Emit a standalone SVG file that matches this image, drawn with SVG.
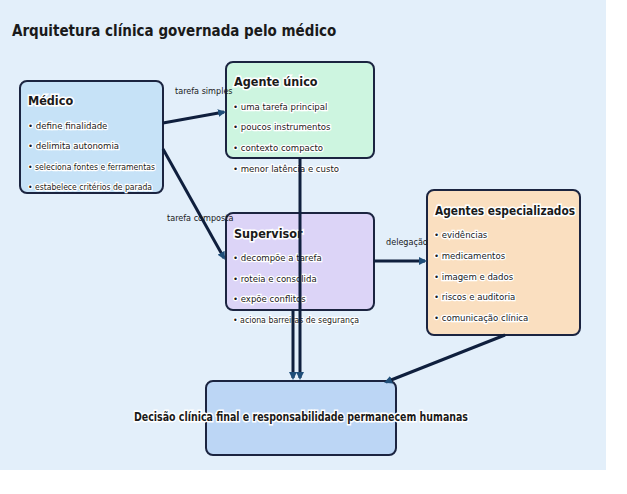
<svg xmlns="http://www.w3.org/2000/svg" width="627" height="494" viewBox="0 0 627 494">
<style>
text{font-family:"DejaVu Sans Condensed","DejaVu Sans",sans-serif;fill:#1a1a1a}
.t{font-weight:bold;font-size:12.5px;stroke:#fff;stroke-width:3;paint-order:stroke}
.b{font-size:9.5px;stroke:#fff;stroke-width:2.5;paint-order:stroke}
.l{font-size:9px}
.box{stroke:#1b2440;stroke-width:2}
.c{stroke:#0f1f3d;stroke-width:3;fill:none;marker-end:url(#ah)}
</style>
<defs>
<marker id="ah" markerWidth="8" markerHeight="8" refX="6" refY="4" orient="auto" markerUnits="userSpaceOnUse"><path d="M0,0 L8,4 L0,8 Z" fill="#1f4e79"/></marker>
</defs>
<rect x="0" y="0" width="606" height="470" fill="#e3effa"/>
<text x="12" y="36" style="font-weight:bold;font-size:15px">Arquitetura clínica governada pelo médico</text>
<g id="medico"><rect class="box" x="20" y="81" width="143" height="112" rx="7" fill="#c6e2f7"/>
<text class="t" x="28" y="105">Médico</text>
<g class="b"><text x="28" y="129">• define finalidade</text><text x="28" y="149">• delimita autonomia</text><text x="28" y="170" textLength="127" lengthAdjust="spacingAndGlyphs">• seleciona fontes e ferramentas</text><text x="28" y="190" textLength="124" lengthAdjust="spacingAndGlyphs">• estabelece critérios de parada</text></g></g>
<g id="agente"><rect class="box" x="226" y="62" width="148" height="96" rx="7" fill="#cdf5e0"/>
<text class="t" x="234" y="86">Agente único</text>
<g class="b"><text x="233" y="110">• uma tarefa principal</text><text x="233" y="130">• poucos instrumentos</text><text x="233" y="151">• contexto compacto</text><text x="233" y="172">• menor latência e custo</text></g></g>
<g id="supervisor"><rect class="box" x="226" y="213" width="148" height="97" rx="7" fill="#dcd4f7"/>
<text class="t" x="234" y="238">Supervisor</text>
<g class="b"><text x="233" y="261">• decompõe a tarefa</text><text x="233" y="282">• roteia e consolida</text><text x="233" y="302">• expõe conflitos</text><text x="233" y="323" textLength="126" lengthAdjust="spacingAndGlyphs">• aciona barreiras de segurança</text></g></g>
<g id="especializados"><rect class="box" x="427" y="190" width="153" height="145" rx="7" fill="#fadfc0"/>
<text class="t" x="435" y="215" textLength="140" lengthAdjust="spacingAndGlyphs">Agentes especializados</text>
<g class="b"><text x="434" y="238">• evidências</text><text x="434" y="259">• medicamentos</text><text x="434" y="280">• imagem e dados</text><text x="434" y="300">• riscos e auditoria</text><text x="434" y="321">• comunicação clínica</text></g></g>
<g id="decisao"><rect class="box" x="206" y="381" width="190" height="74" rx="7" fill="#bcd6f5"/>
<text class="t" x="134" y="421" textLength="334" lengthAdjust="spacingAndGlyphs">Decisão clínica final e responsabilidade permanecem humanas</text></g>
<g id="connectors">
<path class="c" d="M163,123 L224,112"/>
<path class="c" d="M163,149 L224,258"/>
<path class="c" d="M374,261 L425,261"/>
<path class="c" d="M505,335 L386,382"/>
<path class="c" d="M300,158 L300,378"/>
<path class="c" d="M293,310 L293,378"/>
<text class="l" x="175" y="94">tarefa simples</text>
<text class="l" x="167" y="221">tarefa composta</text>
<text class="l" x="386" y="245">delegação</text>
</g>
</svg>
